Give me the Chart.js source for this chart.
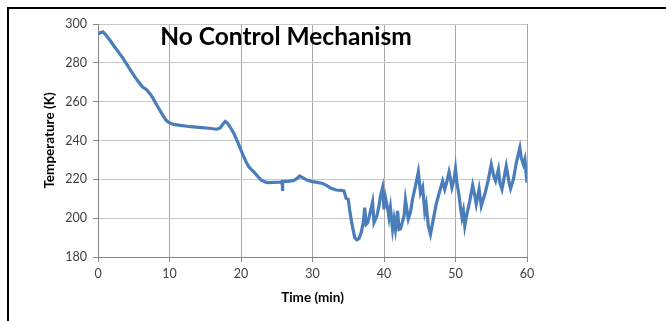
<!DOCTYPE html>
<html>
<head>
<meta charset="utf-8">
<script src="https://cdn.jsdelivr.net/npm/chart.js@4"></script>
<style>
  html, body { margin: 0; padding: 0; background: #fff; }
  #wrap { position: relative; width: 666px; height: 321px; overflow: hidden; }
  #frame { position: absolute; left: 7px; top: 7px; width: 700px; height: 400px;
           border-top: 2px solid #000; border-left: 2px solid #000; pointer-events: none; }
  canvas { position: absolute; left: 0; top: 0; }
</style>
</head>
<body>
<div id="wrap">
  <canvas id="c" width="666" height="321"></canvas>
  <div id="frame"></div>
</div>
<script>
// --- data ---
const timeMin = [
  0, 0.3, 0.7, 1.1, 1.7, 2.3, 2.9, 3.5, 4.1, 4.7, 5.4, 6.2, 6.8, 7.3, 7.7, 8.3, 8.9, 9.4, 9.75,
  10.2, 10.6, 11.5, 13, 14.5, 15.5, 16.6, 17.1, 17.5, 17.8, 18.1, 18.5, 19.0, 19.5, 19.9,
  20.3, 20.7, 21.1, 21.5, 21.9, 22.4, 22.8, 23.3, 23.7, 24.5, 25.5, 25.75, 25.8, 25.85,
  26.5, 27.3, 27.8, 28.2, 28.8, 29.3, 30, 30.7, 31.4, 32.0, 32.6, 33.3, 34.0, 34.4, 34.7,
  35.0, 35.2, 35.5, 35.9, 36.2, 36.5, 36.8, 37.1, 37.3, 37.5, 37.7, 38.0, 38.4, 38.6, 39.0,
  39.3, 39.5, 39.8, 40.0, 40.2, 40.5, 40.7, 40.9, 41.2, 41.4, 41.6, 41.9, 42.1, 42.3, 42.8,
  43.0, 43.4, 43.7, 44.0, 44.4, 44.8, 45.1, 45.4, 45.7, 45.9, 46.2, 46.5, 46.9, 47.3, 47.8,
  48.2, 48.5, 48.7, 49.1, 49.3, 49.5, 49.8, 50.0, 50.2, 50.5, 50.7, 50.9, 51.1, 51.3, 51.5,
  52.0, 52.4, 52.7, 52.9, 53.3, 53.6, 54.1, 54.6, 55.0, 55.4, 55.6, 56.0, 56.2, 56.5, 56.8,
  57.1, 57.5, 57.7, 58.1, 58.5, 59.0, 59.2, 59.5, 59.7, 60.0
];
const tempK = [
  294.8, 295.5, 296, 294.3, 291.5, 288.3, 285.4, 282.3, 278.8, 275.4, 271.5, 267.7, 266.2, 264, 261.7, 257.8, 254, 251, 249.7,
  248.7, 248.3, 247.8, 247.1, 246.6, 246.3, 245.8, 246.5, 248.6, 249.8, 249, 246.8, 243.7, 239.5, 236,
  232.3, 229.1, 226.5, 224.8, 223.4, 221.3, 219.7, 218.8, 218.3, 218.4, 218.6, 218.8, 214, 219,
  219, 219.3, 220.3, 221.7, 220.5, 219.5, 218.8, 218.4, 217.9, 216.8, 215.4, 214.5, 214.3, 214, 210.2,
  209.7, 204.2, 197.3, 190.1, 188.9, 189.5, 192.5, 197.7, 205.4, 196.8, 197.5, 202, 208.3, 197.7, 201.1,
  206.3, 211.4, 215.7, 204.5, 210.6, 205.4, 200.3, 205.4, 194.2, 199.4, 194.2, 203.7, 194.2, 194.5, 201,
  209.5, 199.6, 203, 210, 216.5, 223.8, 213, 216, 203.5, 207, 196, 191.7, 199.5, 207.2, 214,
  219.1, 214.9, 217.4, 223.8, 220, 215.7, 220, 225.5, 218.3, 211.5, 205.5, 200.4, 203.8, 196.1, 200.4,
  208.9, 216.9, 211.5, 207.2, 214.9, 206.3, 212.3, 220, 227.7, 220.9, 219.1, 225.1, 218.3, 214.9, 220.9,
  226.8, 218.3, 215.2, 220, 228.5, 236.2, 231.1, 227.7, 230.3, 218.3
];
const chartTitle = 'No Control Mechanism';
const xTitle = 'Time (min)';
const yTitle = 'Temperature (K)';

const points = timeMin.map((t, i) => ({ x: t, y: tempK[i] }));

// title sits inside the plot area
const innerTitle = {
  id: 'innerTitle',
  afterDraw(chart) {
    const ctx = chart.ctx;
    ctx.save();
    ctx.font = 'bold 24.5px Lato';
    ctx.fillStyle = '#000';
    ctx.textAlign = 'center';
    ctx.textBaseline = 'alphabetic';
    ctx.fillText(chartTitle, 286, 45);
    ctx.restore();
  }
};

new Chart(document.getElementById('c'), {
  type: 'line',
  data: {
    datasets: [{
      data: points,
      borderColor: '#4a7ebb',
      borderWidth: 3.2,
      pointRadius: 0,
      fill: false,
      tension: 0
    }]
  },
  options: {
    responsive: false,
    animation: false,
    layout: { padding: { left: 36, right: 139, top: 24, bottom: 10 } },
    plugins: { legend: { display: false }, tooltip: { enabled: false } },
    scales: {
      x: {
        type: 'linear',
        min: 0, max: 60,
        ticks: { stepSize: 10, color: '#404040', font: { family: 'Lato', size: 12.5 }, padding: 4, maxRotation: 0 },
        grid: { color: '#a8a8a8', tickColor: '#868686', tickLength: 5 },
        border: { color: '#868686' },
        title: { display: true, text: xTitle, color: '#000', font: { family: 'Lato', size: 13.5, weight: 'bold' }, padding: { top: 0, bottom: 5 } },
        afterFit: s => { s.height = 54; }
      },
      y: {
        min: 180, max: 300,
        ticks: { stepSize: 20, color: '#404040', font: { family: 'Lato', size: 12.5 }, padding: 6 },
        grid: { color: '#c8c8c8', tickColor: '#868686', tickLength: 5 },
        border: { color: '#868686' },
        title: { display: true, text: yTitle, color: '#000', font: { family: 'Lato', size: 13.5, weight: 'bold' }, padding: { top: 6, bottom: 0 } },
        afterFit: s => { s.width = 62; }
      }
    }
  },
  plugins: [innerTitle]
});
</script>
</body>
</html>
